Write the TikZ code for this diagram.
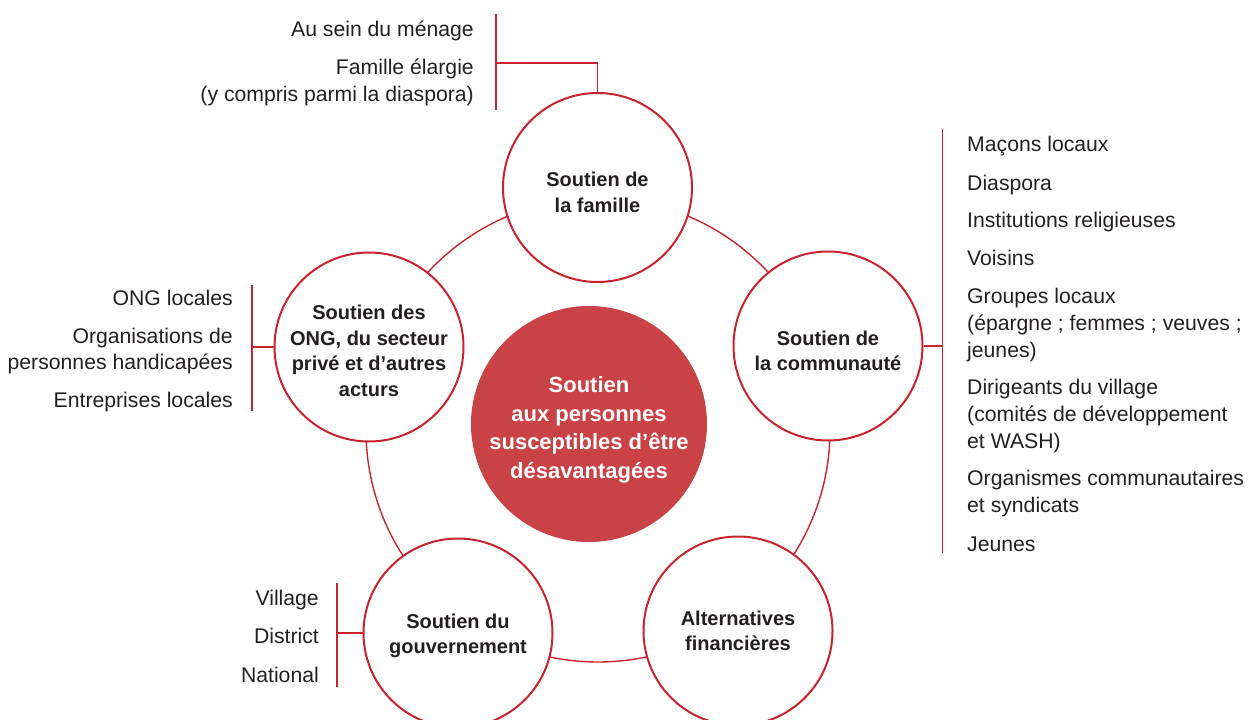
\documentclass[tikz,border=0pt]{standalone}
\usepackage{fontspec}
\setmainfont{Liberation Sans}
\definecolor{cred}{HTML}{C8232C}
\definecolor{cfill}{HTML}{C94246}
\definecolor{ctext}{HTML}{231F20}
\begin{document}
\begin{tikzpicture}[x=1pt,y=-1pt,
  sat/.style={circle, draw=cred, line width=2pt, fill=white, minimum size=189pt, inner sep=0pt},
  satlab/.style={align=center, inner sep=0pt, text=ctext, font=\fontsize{20}{25.5}\selectfont\bfseries},
  hub/.style={circle, fill=cfill, minimum size=236pt, inner sep=0pt},
  hublab/.style={align=center, inner sep=0pt, text=white, font=\fontsize{22}{28.5}\selectfont\bfseries},
  item/.style={inner sep=0pt, text=ctext, font=\fontsize{21.2}{27}\selectfont},
  litem/.style={item, align=right, anchor=base east},
  ritem/.style={item, align=left, anchor=base west},
  litemb/.style={item, align=right, anchor=base east, font=\fontsize{21.2}{26}\selectfont},
  link/.style={draw=cred, line width=1.4pt},
]
\useasboundingbox (0,0) rectangle (1251,720);
% ring
\draw[link] (598,430) circle[radius=232pt];
% nodes
\node[hub] (hub) at (589,424) {};
\node[hublab, yshift=-6pt] (hubt) at (hub) {Soutien\\aux personnes\\susceptibles d’être\\désavantagées};
\node[sat] (fam) at (597.5,187.5) {};
\node[satlab, yshift=-5pt] (famt) at (fam) {Soutien de\\la famille};
\node[sat] (com) at (828,346) {};
\node[satlab, yshift=-5pt] (comt) at (com) {Soutien de\\la communauté};
\node[sat] (fin) at (738,631) {};
\node[satlab] (fint) at (fin) {Alternatives\\financières};
\node[sat] (gov) at (458,633) {};
\node[satlab, yshift=-3pt] (govt) at (gov) {Soutien du\\gouvernement};
\node[sat] (ong) at (369,347) {};
\node[satlab, yshift=-4pt] (ongt) at (ong) {Soutien des\\ONG, du secteur\\privé et d’autres\\acturs};
% brackets
\coordinate (tb1) at (496,14);
\coordinate (tb2) at (496,110);
\coordinate (tbm) at (496,63);
\draw[link] (tb1) -- (tb2);
\draw[link] (tbm) -| (fam.north);
\coordinate (rb1) at (942.5,129);
\coordinate (rb2) at (942.5,553);
\draw[link] (rb1) -- (rb2);
\draw[link] (com.east) -- (com.east -| rb1);
\coordinate (lb1) at (252,285);
\coordinate (lb2) at (252,411);
\draw[link] (lb1) -- (lb2);
\draw[link] (ong.west) -- (ong.west -| lb1);
\coordinate (gb1) at (337,583);
\coordinate (gb2) at (337,687);
\draw[link] (gb1) -- (gb2);
\draw[link] (gov.west) -- (gov.west -| gb1);
% top items (multi-line nodes: base = last line)
\node[litem] (t1) at (474,36) {Au sein du ménage};
\node[litem] (t2) at (474,101) {Famille élargie\\(y compris parmi la diaspora)};
% right items
\node[ritem] (r1) at (967,151.5) {Maçons locaux};
\node[ritem] (r2) at (967,190) {Diaspora};
\node[ritem] (r3) at (967,227.5) {Institutions religieuses};
\node[ritem] (r4) at (967,265.5) {Voisins};
\node[ritem] (r5) at (967,357.5) {Groupes locaux\\(épargne ; femmes ; veuves ;\\jeunes)};
\node[ritem] (r6) at (967,448) {Dirigeants du village\\(comités de développement\\et WASH)};
\node[ritem] (r7) at (967,512) {Organismes communautaires\\et syndicats};
\node[ritem] (r8) at (967,551) {Jeunes};
% left items
\node[litem] (l1) at (233,305) {ONG locales};
\node[litemb] (l2) at (233,369) {Organisations de\\personnes handicapées};
\node[litem] (l3) at (233,407) {Entreprises locales};
% bottom-left items
\node[litem] (g1) at (319,605) {Village};
\node[litem] (g2) at (319,643) {District};
\node[litem] (g3) at (319,682) {National};
\end{tikzpicture}
\end{document}
